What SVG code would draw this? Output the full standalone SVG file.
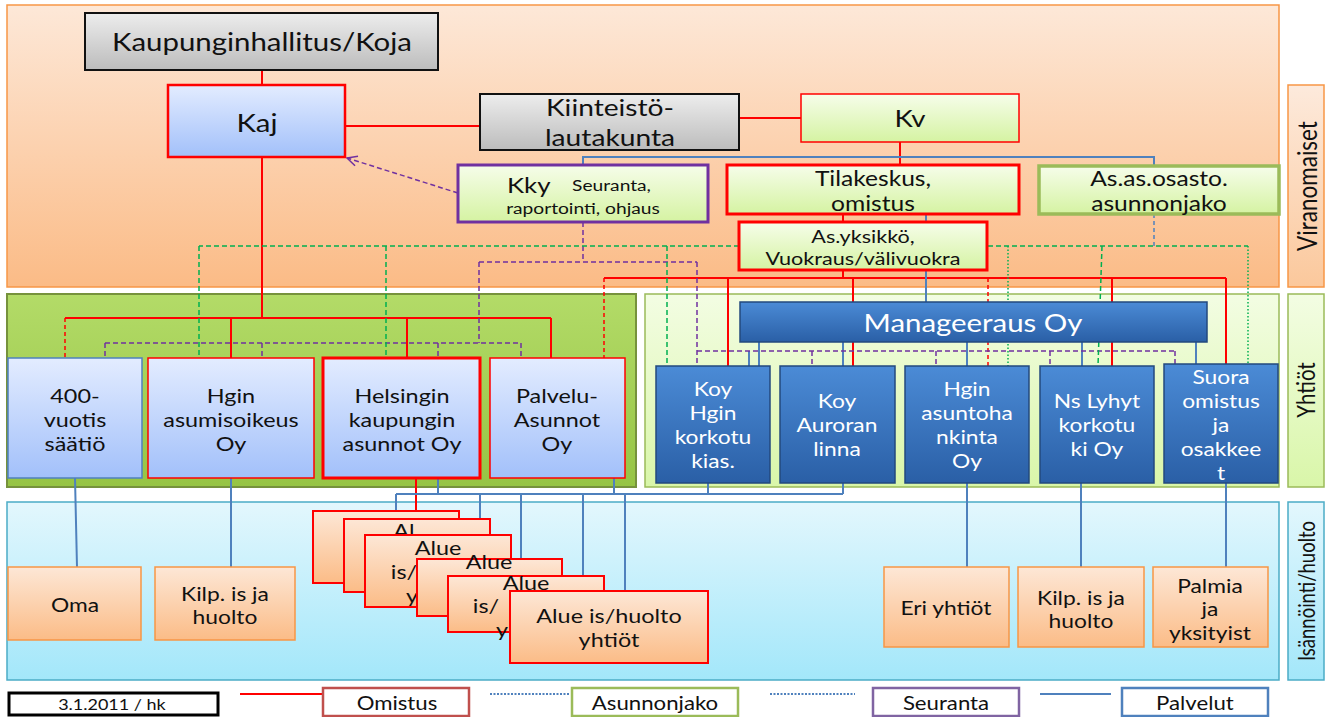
<svg xmlns="http://www.w3.org/2000/svg" width="1330" height="717" viewBox="0 0 1330 717">
<defs>
<linearGradient id="gBandOrange" x1="0" y1="0" x2="0" y2="1"><stop offset="0" stop-color="#fde8d8"/><stop offset="1" stop-color="#fbbb86"/></linearGradient>
<linearGradient id="gBandGreen" x1="0" y1="0" x2="0" y2="1"><stop offset="0" stop-color="#b3db68"/><stop offset="1" stop-color="#96c444"/></linearGradient>
<linearGradient id="gBandLightGreen" x1="0" y1="0" x2="0" y2="1"><stop offset="0" stop-color="#f3fde3"/><stop offset="1" stop-color="#d9f6a9"/></linearGradient>
<linearGradient id="gBandBlue" x1="0" y1="0" x2="0" y2="1"><stop offset="0" stop-color="#e3f7fd"/><stop offset="1" stop-color="#a3e7fa"/></linearGradient>
<linearGradient id="gLabOrange" x1="0" y1="0" x2="0" y2="1"><stop offset="0" stop-color="#fdeadc"/><stop offset="1" stop-color="#fbc89c"/></linearGradient>
<linearGradient id="gBlueLight" x1="0" y1="0" x2="0" y2="1"><stop offset="0" stop-color="#e3ecff"/><stop offset="1" stop-color="#a2c0fa"/></linearGradient>
<linearGradient id="gGray" x1="0" y1="0" x2="0" y2="1"><stop offset="0" stop-color="#ededed"/><stop offset="1" stop-color="#bcbcbc"/></linearGradient>
<linearGradient id="gGreenLight" x1="0" y1="0" x2="0" y2="1"><stop offset="0" stop-color="#f6fdea"/><stop offset="1" stop-color="#d5f3a2"/></linearGradient>
<linearGradient id="gDark" x1="0" y1="0" x2="0" y2="1"><stop offset="0" stop-color="#4b8bd6"/><stop offset="1" stop-color="#2a5fa6"/></linearGradient>
<linearGradient id="gOrange" x1="0" y1="0" x2="0" y2="1"><stop offset="0" stop-color="#fde7d6"/><stop offset="1" stop-color="#fbbc87"/></linearGradient>
<marker id="arrOpen" viewBox="0 0 12 12" refX="11" refY="6" markerWidth="12" markerHeight="12" orient="auto" markerUnits="userSpaceOnUse"><path d="M1,1 L11,6 L1,11" fill="none" stroke="#7030a0" stroke-width="1.5"/></marker>
</defs>
<style>
text,tspan{font-family:Lato,"Open Sans","Liberation Sans",sans-serif;fill:#111;text-anchor:middle;dominant-baseline:central}
.s{transform-box:fill-box;transform-origin:center;transform:scaleX(1.2)}
.w,.w tspan{fill:#fff}
.r{stroke:#ff0000;stroke-width:2;fill:none}
.rd{stroke:#ff0000;stroke-width:1.5;stroke-dasharray:4 3;fill:none}
.b{stroke:#4f81bd;stroke-width:2;fill:none}
.bd{stroke:#4f81bd;stroke-width:1.5;stroke-dasharray:4 3;fill:none}
.p{stroke:#7030a0;stroke-width:1.5;stroke-dasharray:5 3;fill:none}
.g{stroke:#00b050;stroke-width:1.5;stroke-dasharray:5 3;fill:none}
.gt{stroke:#00b050;stroke-width:1.5;stroke-dasharray:1.5 2;fill:none}
.blue{fill:url(#gBlueLight)}
.gray{fill:url(#gGray);stroke:#111;stroke-width:2}
.grn{fill:url(#gGreenLight)}
.dark{fill:url(#gDark);stroke:#23497e;stroke-width:1.5}
.org{fill:url(#gOrange);stroke:#f79646;stroke-width:1.5}
.alue{fill:url(#gOrange);stroke:#ff0000;stroke-width:2}
.leg{fill:#fff;stroke-width:2.5}
</style>

<g id="bands">
<rect x="7" y="5" width="1272" height="282" fill="url(#gBandOrange)" stroke="#f79646" stroke-width="1.5"/>
<rect x="7" y="294" width="629" height="193" fill="url(#gBandGreen)" stroke="#76923c" stroke-width="2"/>
<rect x="645" y="294" width="634" height="193" fill="url(#gBandLightGreen)" stroke="#9bbb59" stroke-width="1.5"/>
<rect x="7" y="502" width="1272" height="178" fill="url(#gBandBlue)" stroke="#4bacc6" stroke-width="1.5"/>
</g>

<g id="label-viranomaiset"><rect x="1288" y="85" width="36" height="202" fill="url(#gLabOrange)" stroke="#f79646" stroke-width="1.5"/><text transform="translate(1306,186) rotate(-90) scale(1,1.2)" font-size="22.5">Viranomaiset</text></g>
<g id="label-yhtiot"><rect x="1288" y="294" width="36" height="193" fill="url(#gBandLightGreen)" stroke="#9bbb59" stroke-width="1.5"/><text transform="translate(1306,390) rotate(-90) scale(1,1.2)" font-size="20.5">Yhtiöt</text></g>
<g id="label-isannointi"><rect x="1288" y="502" width="36" height="178" fill="url(#gBandBlue)" stroke="#4bacc6" stroke-width="1.5"/><text transform="translate(1306,591) rotate(-90) scale(1,1.2)" font-size="18.5">Isännöinti/huolto</text></g>

<g id="connectors">
<path class="r" d="M262,70V85 M345,126H480 M739,118H801 M900,142V165 M843,214V222 M262,157V318 M65,318H551 M231,318V358 M407,318V358 M551,318V358 M843,270V278 M604,278H1226 M728,278V366 M853,278V366 M1112,278V366 M1226,278V364 M416,478V511"/>
<path class="rd" d="M65,318V358 M604,278V358 M988,278V366"/>
<path class="b" d="M583,165V157H1154V166 M926,214V222 M926,270V302 M759,342V366 M749,351V366 M843,342V366 M967,342V366 M1082,342V366 M1196,342V364 M75,478L77,567 M231,478V567 M438,478V494 M614,478V494 M708,483V494 M843,483V494 M396,494H843 M396,494V519 M480,494V519 M521,494V559 M583,494V576 M625,494V591 M967,483V567 M1081,483V567 M1226,483V567"/>
<path class="bd" d="M1154,214V246"/>
<path class="p" d="M583,222V262 M479,262H697 M479,262V343 M105,343H521 M105,343V358 M262,343V358 M438,343V358 M521,343V358 M697,262V366 M697,351H1175 M812,351V366 M936,351V366 M1050,351V366 M1175,351V364"/>
<path class="p" d="M458,193L347,158" marker-end="url(#arrOpen)"/>
<path class="g" d="M739,246H199 M199,246V358 M386,246V358 M667,246V366 M988,246H1248 M1102,246L1098,366"/>
<path class="gt" d="M1008,246V366 M1248,246V364"/>
</g>

<g id="kaupunginhallitus"><rect class="gray" x="85" y="13" width="353" height="57"/><text class="s" x="262" y="42" font-size="24.5">Kaupunginhallitus/Koja</text></g>
<g id="kaj"><rect class="blue" x="168" y="85" width="177" height="72" stroke="#ff0000" stroke-width="2.5"/><text class="s" x="257" y="123" font-size="24.5">Kaj</text></g>
<g id="kiinteistolautakunta"><rect class="gray" x="480" y="94" width="259" height="56"/><text class="s" font-size="23.5"><tspan x="610" y="107">Kiinteistö-</tspan><tspan x="610" y="137">lautakunta</tspan></text></g>
<g id="kv"><rect class="grn" x="801" y="94" width="218" height="48" stroke="#ff0000" stroke-width="1.5"/><text class="s" x="910" y="118" font-size="23">Kv</text></g>
<g id="kky"><rect class="grn" x="458" y="165" width="250" height="57" stroke="#7030a0" stroke-width="3"/><text class="s" x="579" y="185"><tspan font-size="21.5">Kky</tspan><tspan font-size="16" dx="18">Seuranta,</tspan></text><text class="s" x="583" y="208" font-size="16">raportointi, ohjaus</text></g>
<g id="tilakeskus"><rect class="grn" x="727" y="165" width="292" height="49" stroke="#ff0000" stroke-width="3"/><text class="s" font-size="20.5"><tspan x="873" y="178">Tilakeskus,</tspan><tspan x="873" y="203">omistus</tspan></text></g>
<g id="asasosasto"><rect class="grn" x="1039" y="166" width="240" height="48" stroke="#9bbb59" stroke-width="3.5"/><text class="s" font-size="20.5"><tspan x="1159" y="178">As.as.osasto.</tspan><tspan x="1159" y="203">asunnonjako</tspan></text></g>
<g id="asyksikko"><rect class="grn" x="739" y="222" width="248" height="48" stroke="#ff0000" stroke-width="3"/><text class="s" font-size="18"><tspan x="863" y="236">As.yksikkö,</tspan><tspan x="863" y="258">Vuokraus/välivuokra</tspan></text></g>

<g id="saatio"><rect class="blue" x="8" y="358" width="134" height="120" stroke="#4f81bd" stroke-width="1.5"/><text class="s" font-size="19.5"><tspan x="75" y="396">400-</tspan><tspan x="75" y="420">vuotis</tspan><tspan x="75" y="444">säätiö</tspan></text></g>
<g id="asumisoikeus"><rect class="blue" x="148" y="358" width="166" height="120" stroke="#ff0000" stroke-width="1.5"/><text class="s" font-size="19.5"><tspan x="231" y="396">Hgin</tspan><tspan x="231" y="420">asumisoikeus</tspan><tspan x="231" y="444">Oy</tspan></text></g>
<g id="kaupunginasunnot"><rect class="blue" x="323" y="358" width="157" height="120" stroke="#ff0000" stroke-width="3"/><text class="s" font-size="19.5"><tspan x="402" y="396">Helsingin</tspan><tspan x="402" y="420">kaupungin</tspan><tspan x="402" y="444">asunnot Oy</tspan></text></g>
<g id="palveluasunnot"><rect class="blue" x="490" y="358" width="135" height="120" stroke="#ff0000" stroke-width="1.5"/><text class="s" font-size="19.5"><tspan x="557" y="396">Palvelu-</tspan><tspan x="557" y="420">Asunnot</tspan><tspan x="557" y="444">Oy</tspan></text></g>

<g id="manageeraus"><rect class="dark" x="740" y="302" width="467" height="40"/><text class="w s" x="973" y="322" font-size="24.5">Manageeraus Oy</text></g>
<g id="koyhgin"><rect class="dark" x="656" y="366" width="114" height="117"/><text class="w s" font-size="19"><tspan x="713" y="388">Koy</tspan><tspan x="713" y="412">Hgin</tspan><tspan x="713" y="436">korkotu</tspan><tspan x="713" y="460">kias.</tspan></text></g>
<g id="koyauroran"><rect class="dark" x="780" y="366" width="115" height="117"/><text class="w s" font-size="19"><tspan x="837" y="400">Koy</tspan><tspan x="837" y="424">Auroran</tspan><tspan x="837" y="448">linna</tspan></text></g>
<g id="asuntohankinta"><rect class="dark" x="905" y="366" width="124" height="117"/><text class="w s" font-size="19"><tspan x="967" y="388">Hgin</tspan><tspan x="967" y="412">asuntoha</tspan><tspan x="967" y="436">nkinta</tspan><tspan x="967" y="460">Oy</tspan></text></g>
<g id="lyhytkorkotuki"><rect class="dark" x="1040" y="366" width="114" height="117"/><text class="w s" font-size="19"><tspan x="1097" y="400">Ns Lyhyt</tspan><tspan x="1097" y="424">korkotu</tspan><tspan x="1097" y="448">ki  Oy</tspan></text></g>
<g id="suoraomistus"><rect class="dark" x="1164" y="364" width="114" height="119"/><text class="w s" font-size="19"><tspan x="1221" y="376">Suora</tspan><tspan x="1221" y="400">omistus</tspan><tspan x="1221" y="424">ja</tspan><tspan x="1221" y="448">osakkee</tspan><tspan x="1221" y="472">t</tspan></text></g>

<g id="oma"><rect class="org" x="8" y="567" width="133" height="73"/><text class="s" x="75" y="604" font-size="19">Oma</text></g>
<g id="kilp-left"><rect class="org" x="155" y="567" width="140" height="73"/><text class="s" font-size="19"><tspan x="225" y="593">Kilp. is ja</tspan><tspan x="225" y="616">huolto</tspan></text></g>
<g id="alue-1"><rect class="alue" x="313" y="511" width="146" height="72"/></g>
<g id="alue-2"><rect class="alue" x="344" y="519" width="146" height="73"/><text class="s" x="404" y="531" font-size="19.5">Al</text></g>
<g id="alue-3"><rect class="alue" x="365" y="535" width="146" height="72"/><text class="s" x="438" y="548" font-size="19.5">Alue</text><text class="s" x="404" y="572" font-size="19.5">is/</text><text class="s" x="412" y="596" font-size="19.5">y</text></g>
<g id="alue-4"><rect class="alue" x="417" y="559" width="145" height="57"/><text class="s" x="489" y="562" font-size="19.5">Alue</text></g>
<g id="alue-5"><rect class="alue" x="448" y="576" width="156" height="56"/><text class="s" x="526" y="583" font-size="19.5">Alue</text><text class="s" x="486" y="606" font-size="19.5">is/</text><text class="s" x="502" y="630" font-size="19.5">y</text></g>
<g id="alue-6"><rect class="alue" x="510" y="591" width="198" height="72"/><text class="s" font-size="19.5"><tspan x="609" y="616">Alue is/huolto</tspan><tspan x="609" y="640">yhtiöt</tspan></text></g>
<g id="eri-yhtiot"><rect class="org" x="884" y="567" width="125" height="80"/><text class="s" x="946" y="607" font-size="19">Eri yhtiöt</text></g>
<g id="kilp-right"><rect class="org" x="1018" y="567" width="126" height="80"/><text class="s" font-size="19"><tspan x="1081" y="597">Kilp. is ja</tspan><tspan x="1081" y="620">huolto</tspan></text></g>
<g id="palmia"><rect class="org" x="1153" y="567" width="115" height="80"/><text class="s" font-size="19"><tspan x="1210" y="585">Palmia</tspan><tspan x="1210" y="608">ja</tspan><tspan x="1210" y="632">yksityist</tspan></text></g>

<g id="legend">
<rect x="9" y="693" width="209" height="22" fill="#fff" stroke="#000" stroke-width="3"/><text class="s" x="112" y="705" font-size="15">3.1.2011 / hk</text>
<path d="M240,694H322" stroke="#ff0000" stroke-width="2"/>
<rect class="leg" x="323" y="688" width="146" height="28" stroke="#c0504d"/><text class="s" x="397" y="703" font-size="18.5">Omistus</text>
<path d="M490,694H570" stroke="#4f81bd" stroke-width="2" stroke-dasharray="2 1.5"/>
<rect class="leg" x="572" y="688" width="166" height="28" stroke="#9bbb59"/><text class="s" x="655" y="703" font-size="18.5">Asunnonjako</text>
<path d="M770,694H855" stroke="#4f81bd" stroke-width="2" stroke-dasharray="2 1.5"/>
<rect class="leg" x="873" y="688" width="146" height="28" stroke="#8064a2"/><text class="s" x="946" y="703" font-size="18.5">Seuranta</text>
<path d="M1040,694H1111" stroke="#4f81bd" stroke-width="2"/>
<rect class="leg" x="1122" y="688" width="146" height="28" stroke="#4f81bd"/><text class="s" x="1195" y="703" font-size="18.5">Palvelut</text>
</g>
</svg>
